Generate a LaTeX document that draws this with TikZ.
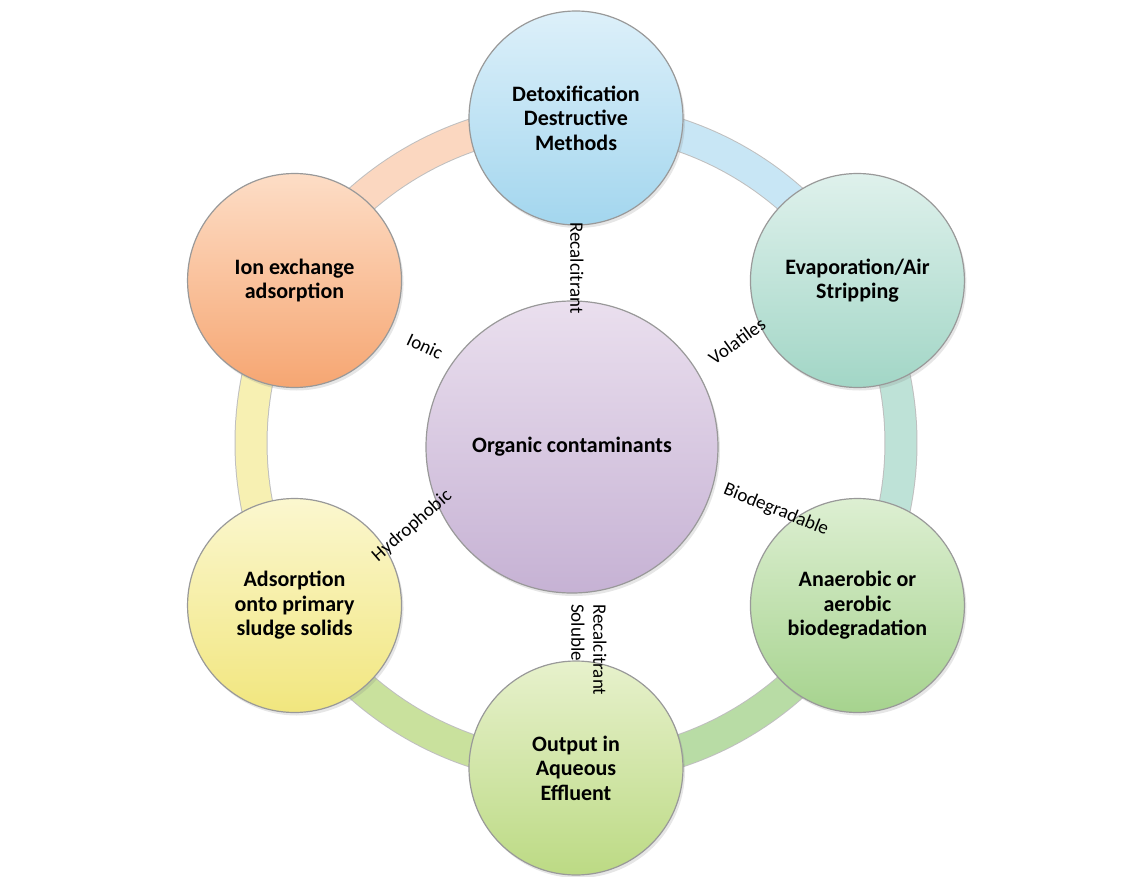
\documentclass[tikz,border=0pt]{standalone}
\usepackage{fontspec}
\setmainfont{Carlito}
\usetikzlibrary{shadows,backgrounds}

\definecolor{detoxtop}{HTML}{DDF0FA}
\definecolor{detoxbot}{HTML}{A3D6EE}
\definecolor{evaptop}{HTML}{DFF1EC}
\definecolor{evapbot}{HTML}{A2D6C6}
\definecolor{anaetop}{HTML}{DDEFD2}
\definecolor{anaebot}{HTML}{A6D38E}
\definecolor{outtop}{HTML}{E7F1CC}
\definecolor{outbot}{HTML}{BCDA84}
\definecolor{sludgetop}{HTML}{FBF7CF}
\definecolor{sludgebot}{HTML}{F1E67E}
\definecolor{iontop}{HTML}{FDDDC6}
\definecolor{ionbot}{HTML}{F6A672}
\definecolor{orgtop}{HTML}{EADFEE}
\definecolor{orgbot}{HTML}{C6B2D4}

\begin{document}
\begin{tikzpicture}[x=1pt,y=1pt,
  stage/.style={circle,draw=black!40,line width=1.2pt,minimum size=214pt,inner sep=0pt,
    align=center,font=\bfseries\fontsize{22}{24.5}\selectfont,
    drop shadow={opacity=0.2,shadow xshift=2pt,shadow yshift=-3pt}},
  band/.style={line width=31pt,draw=#1,preaction={draw=black!25,line width=33pt}},
  tag/.style={font=\fontsize{19}{22}\selectfont,inner sep=1pt}]
\useasboundingbox (-576,443) rectangle (567,-433);

% the six treatment routes
\node[stage,top color=detoxtop,bottom color=detoxbot] (detox) at (90:325) {Detoxification\\Destructive\\Methods};
\node[stage,top color=evaptop,bottom color=evapbot] (evap) at (30:325) {Evaporation/Air\\Stripping};
\node[stage,top color=anaetop,bottom color=anaebot] (anaer) at (-30:325) {Anaerobic or\\aerobic\\biodegradation};
\node[stage,top color=outtop,bottom color=outbot] (output) at (-90:325) {Output in\\Aqueous\\Effluent};
\node[stage,top color=sludgetop,bottom color=sludgebot] (sludge) at (210:325) {Adsorption\\onto primary\\sludge solids};
\node[stage,top color=iontop,bottom color=ionbot] (ionex) at (150:325) {Ion exchange\\adsorption};

\node[stage,minimum size=292pt,top color=orgtop,bottom color=orgbot] (organic) at (-4,-4) {Organic contaminants};

% ring behind the circles
\begin{pgfonlayer}{background}
\draw[band=ionbot!45] (ionex.center) arc[start angle=150,end angle=90,radius=325];
\draw[band=detoxbot!60] (detox.center) arc[start angle=90,end angle=30,radius=325];
\draw[band=evapbot!70] (evap.center) arc[start angle=30,end angle=-30,radius=325];
\draw[band=anaebot!80] (anaer.center) arc[start angle=-30,end angle=-90,radius=325];
\draw[band=outbot!80] (output.center) arc[start angle=-90,end angle=-150,radius=325];
\draw[band=sludgebot!60] (sludge.center) arc[start angle=210,end angle=150,radius=325];
\end{pgfonlayer}

% pathway labels
\node[tag,rotate=-90] (recal) at (1,175) {Recalcitrant};
\node[tag,rotate=36] (volat) at (161,102) {Volatiles};
\node[tag,rotate=-25] (ionic) at (-151,97) {Ionic};
\node[tag,rotate=41] (hydro) at (-164,-83) {Hydrophobic};
\node[tag,rotate=-22] (biodeg) at (200,-67) {Biodegradable};
\node[tag,rotate=-90,align=left,anchor=west] (solub) at (13,-160) {Recalcitrant\\Soluble};
\end{tikzpicture}
\end{document}
